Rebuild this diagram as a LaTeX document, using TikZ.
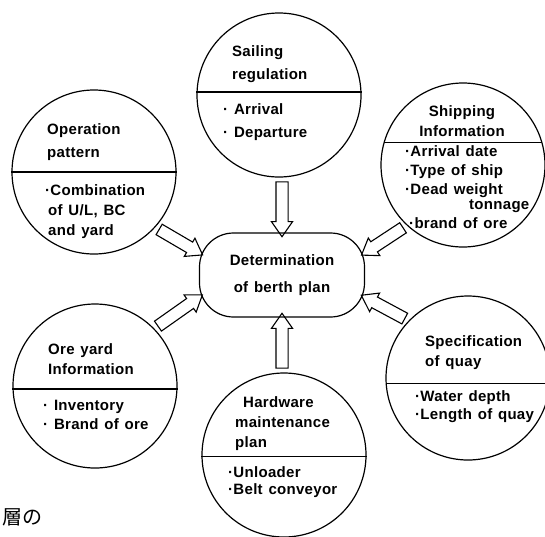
\documentclass[tikz,border=0pt]{standalone}
\usepackage{fontspec}
\setmainfont[LetterSpace=2.0,WordSpace=1.3]{Liberation Sans}
\newfontfamily\jpfont{Noto Sans CJK JP}
\usetikzlibrary{calc,shapes.arrows}

\tikzset{
  disc/.style={circle, draw, line width=1.2pt, minimum size=164pt, inner sep=0pt},
  plate/.style={rectangle, rounded corners=34pt, draw, line width=1.2pt,
    minimum width=165pt, minimum height=84pt, align=center,
    font=\bfseries\fontsize{15}{27}\selectfont},
  txt/.style={anchor=north west, align=left, inner sep=0pt,
    font=\bfseries\fontsize{15}{#1}\selectfont},
  rule/.style={line width=1.4pt},
  hollow/.style={single arrow, draw, line width=1.1pt, inner xsep=0pt, inner ysep=5.5pt,
    single arrow head extend=4.5pt, single arrow tip angle=70}
}

\newcommand{\hollowarrow}[2]{%
  \path let \p1=($(#2)-(#1)$), \n1={veclen(\x1,\y1)} in
    (#1) -- (#2) node[midway, sloped, allow upside down, hollow, minimum height=\n1] {};}

\begin{document}
\begin{tikzpicture}[x=1pt,y=-1pt]
  \useasboundingbox (0,0) rectangle (545,536);
  % centre
  \node[plate] (plan) at (282,275) {Determination\\of berth plan};
  % circles
  \node[disc] (sail) at (279,95) {};
  \node[disc] (oper) at (94,172) {};
  \node[disc] (ship) at (463,165) {};
  \node[disc] (ore) at (95,386) {};
  \node[disc] (hw) at (284,455) {};
  \node[disc] (spec) at (468,378) {};
  \draw[rule] (sail.2) -- (sail.178);
  \draw[rule] (oper.0) -- (oper.180);
  \draw[rule] (ship.16) -- (ship.164);
  \draw[rule] (ore.-2) -- (ore.182);
  \draw[rule] (hw.-1) -- (hw.181);
  \draw[rule] (spec.-4) -- (spec.184);
  % texts
  \node[txt=23] (sailT) at (232,45) {Sailing\\regulation};
  \node[txt=23] (sailI) at (223,103) {· Arrival\\· Departure};
  \node[txt=23] (operT) at (47,123) {Operation\\pattern};
  \node[txt=20] (operI) at (45,184) {·Combination\\\hspace*{3pt}of U/L, BC\\\hspace*{3pt}and yard};
  \node[txt=20, anchor=north, align=center] (shipT) at (462,105) {Shipping\\Information};
  \node[txt=19] (shipI) at (405,145) {·Arrival date\\·Type of ship\\·Dead weight\\[-4pt]\hspace*{64pt}tonnage\\\hspace*{4pt}·brand of ore};
  \node[txt=20] (oreT) at (48,343) {Ore yard\\Information};
  \node[txt=19] (oreI) at (43,400) {· Inventory\\· Brand of ore};
  \node[txt=20] (hwT) at (235,396) {\hspace*{8pt}Hardware\\maintenance\\plan};
  \node[txt=17] (hwI) at (228,466) {·Unloader\\·Belt conveyor};
  \node[txt=20] (specT) at (425,335) {Specification\\of quay};
  \node[txt=18] (specI) at (415,390) {·Water depth\\·Length of quay};
  \node[anchor=west, inner sep=0pt, font=\jpfont\fontsize{20}{20}\selectfont] (pageref) at (2,517) {層の};
  % arrows
  \coordinate (sailfoot) at (plan.north |- sail.south);
  \coordinate (hwtop) at (plan.south |- hw.north);
  \foreach \from/\to in {sailfoot/plan.north, hwtop/plan.south, oper.-42/plan.165,
      ship.-133/plan.15, ore.44/plan.195, spec.136/plan.-15}
    \hollowarrow{\from}{\to};
\end{tikzpicture}
\end{document}
